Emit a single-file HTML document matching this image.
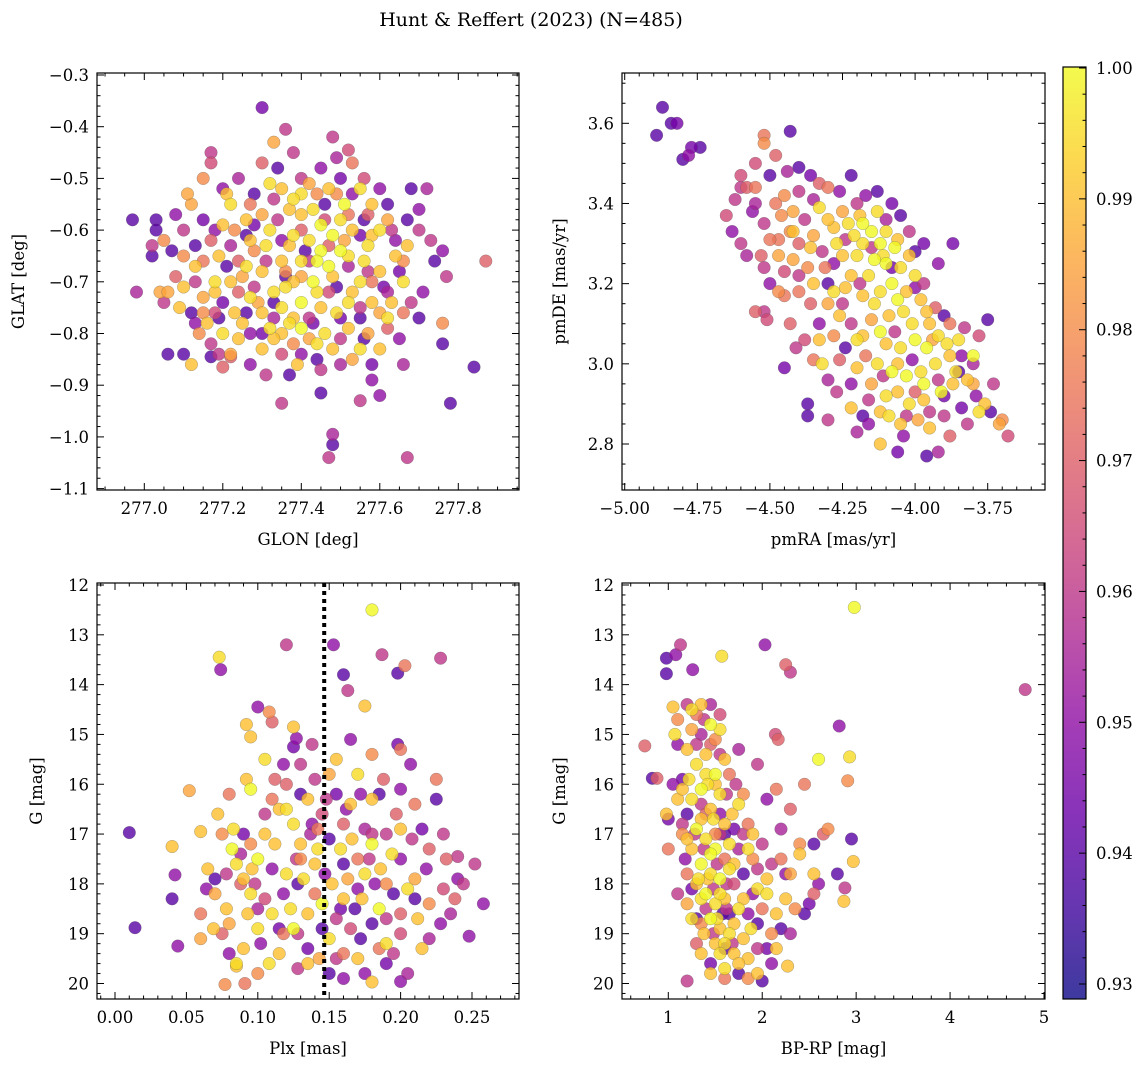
<!DOCTYPE html>
<html><head><meta charset="utf-8"><title>Hunt & Reffert (2023)</title>
<style>
html,body{margin:0;padding:0;background:#fff;}
svg{display:block;font-family:"DejaVu Serif","Liberation Serif",serif;}
</style></head>
<body>
<svg id="fig" width="1148" height="1067" viewBox="0 0 1148 1067" xmlns="http://www.w3.org/2000/svg">
<text x="531" y="26" font-size="19" text-anchor="middle">Hunt &amp; Reffert (2023) (N=485)</text>
</svg>
<script>
// ---- Data: [x, y, membership probability] ----
const skyStars = [
[277.30,-0.363,.945],[277.36,-0.405,.96],[277.48,-0.42,.96],[277.52,-0.445,.965],[277.33,-0.43,.985],[277.38,-0.45,.96],[277.17,-0.45,.96],[277.17,-0.47,.965],
[276.97,-0.58,.94],[276.98,-0.72,.955],[277.03,-0.58,.94],[277.03,-0.60,.94],[277.02,-0.65,.94],[277.05,-0.62,.98],[277.04,-0.72,.985],[277.06,-0.84,.94],[277.10,-0.84,.94],[277.07,-0.64,.94],[277.05,-0.74,.96],
[277.87,-0.66,.97],[277.84,-0.865,.94],[277.78,-0.935,.94],[277.76,-0.82,.94],[277.76,-0.78,.98],[277.77,-0.69,.96],[277.74,-0.66,.94],[277.76,-0.64,.95],[277.68,-0.52,.94],[277.72,-0.52,.955],[277.70,-0.60,.96],[277.67,-0.63,.99],
[277.67,-1.04,.96],[277.47,-1.04,.96],[277.48,-1.015,.94],[277.48,-0.995,.955],[277.35,-0.935,.96],[277.45,-0.915,.94],[277.55,-0.93,.96],[277.58,-0.89,.95],[277.31,-0.88,.96],[277.37,-0.88,.94],[277.20,-0.865,.97],[277.17,-0.845,.94],[277.22,-0.845,.97],[277.12,-0.86,.99],[277.60,-0.92,.95],[277.66,-0.86,.955],
[277.32,-0.51,.995],[277.35,-0.52,.99],[277.40,-0.53,.995],[277.47,-0.52,.99],[277.55,-0.52,.995],[277.58,-0.55,.99],[277.51,-0.55,1],[277.43,-0.56,.995],[277.37,-0.56,.99],[277.30,-0.57,.985],[277.26,-0.58,.99],[277.22,-0.55,.995],[277.20,-0.59,.99],[277.45,-0.59,1],[277.50,-0.58,.995],[277.53,-0.60,.99],[277.48,-0.61,1],[277.42,-0.62,.995],[277.45,-0.64,1],[277.50,-0.64,1],[277.44,-0.66,1],[277.47,-0.67,1],[277.40,-0.66,.995],[277.35,-0.66,.99],[277.30,-0.68,.99],[277.25,-0.69,.985],[277.22,-0.70,.99],[277.18,-0.72,.99],[277.15,-0.73,.985],[277.27,-0.73,.995],[277.33,-0.72,.995],[277.38,-0.70,.99],[277.43,-0.70,1],[277.48,-0.69,.99],[277.55,-0.70,.995],[277.60,-0.68,.99],[277.64,-0.65,.99],[277.66,-0.70,.995],[277.58,-0.74,.99],[277.52,-0.74,.995],[277.45,-0.75,.99],[277.40,-0.74,1],[277.35,-0.75,.995],[277.30,-0.76,.99],[277.25,-0.78,.99],[277.20,-0.80,.995],[277.24,-0.81,.99],[277.16,-0.78,.99],[277.32,-0.79,.995],[277.35,-0.80,.99],[277.40,-0.79,1],[277.46,-0.80,.995],[277.52,-0.79,.99],[277.57,-0.80,.985],[277.60,-0.83,.99],[277.55,-0.83,.995],[277.48,-0.83,.99],[277.42,-0.81,.985],[277.30,-0.83,.99],[277.22,-0.84,.985],[277.14,-0.80,.98],[277.10,-0.71,.99],[277.12,-0.55,.985],[277.11,-0.53,.985],[277.15,-0.50,.98],[277.32,-0.60,.995],[277.37,-0.63,.99],[277.57,-0.63,.995],[277.62,-0.58,.985],[277.56,-0.66,.995],[277.28,-0.64,.98],[277.60,-0.76,.985],[277.38,-0.77,.99],[277.58,-0.61,.99],
[277.20,-0.52,.95],[277.24,-0.50,.955],[277.28,-0.53,.94],[277.40,-0.50,.96],[277.45,-0.48,.95],[277.50,-0.50,.945],[277.56,-0.50,.965],[277.60,-0.52,.95],[277.62,-0.55,.94],[277.15,-0.58,.945],[277.18,-0.60,.95],[277.10,-0.60,.96],[277.13,-0.63,.94],[277.22,-0.63,.955],[277.26,-0.61,.94],[277.34,-0.58,.96],[277.40,-0.60,.97],[277.52,-0.57,.975],[277.56,-0.58,.94],[277.63,-0.60,.96],[277.67,-0.58,.94],[277.70,-0.56,.95],[277.65,-0.68,.945],[277.62,-0.72,.955],[277.68,-0.74,.96],[277.70,-0.77,.94],[277.52,-0.67,.955],[277.36,-0.69,.94],[277.28,-0.71,.96],[277.20,-0.74,.945],[277.12,-0.76,.94],[277.13,-0.78,.95],[277.18,-0.76,.965],[277.08,-0.69,.97],[277.26,-0.76,.94],[277.33,-0.77,.955],[277.42,-0.77,.96],[277.50,-0.77,.945],[277.55,-0.77,.94],[277.62,-0.79,.97],[277.65,-0.81,.95],[277.58,-0.86,.945],[277.50,-0.86,.955],[277.44,-0.85,.94],[277.40,-0.84,.95],[277.35,-0.84,.965],[277.27,-0.86,.95],[277.17,-0.82,.96],[277.15,-0.66,.975],[277.10,-0.65,.98],[277.06,-0.72,.985],[277.30,-0.47,.97],[277.53,-0.47,.975],[277.44,-0.53,.98],[277.36,-0.68,.98],[277.58,-0.70,.975],[277.47,-0.72,.965],[277.24,-0.66,.97],[277.38,-0.82,.98],[277.66,-0.76,.975]
];
const skyStarsCore = [
[277.21,-0.53,.99],[277.27,-0.55,.975],[277.33,-0.54,.96],[277.38,-0.54,.995],[277.42,-0.51,.985],[277.46,-0.55,.94],[277.49,-0.53,.98],[277.53,-0.53,.95],[277.57,-0.57,.97],[277.60,-0.60,.995],[277.55,-0.61,.945],[277.51,-0.62,.985],[277.47,-0.63,.97],[277.41,-0.64,.94],[277.38,-0.61,.995],[277.35,-0.62,.95],[277.31,-0.63,.995],[277.27,-0.62,.99],[277.23,-0.60,.98],[277.19,-0.65,.99],[277.21,-0.67,.94],[277.26,-0.67,.995],[277.31,-0.66,.96],[277.36,-0.71,.995],[277.40,-0.69,.985],[277.44,-0.72,.995],[277.49,-0.71,.94],[277.53,-0.72,.99],[277.57,-0.68,.96],[277.61,-0.71,.945],[277.63,-0.74,.99],[277.55,-0.75,.96],[277.49,-0.76,.995],[277.43,-0.78,.945],[277.37,-0.78,.995],[277.33,-0.74,.94],[277.29,-0.74,.985],[277.23,-0.76,.99],[277.19,-0.77,.94],[277.15,-0.76,.98],[277.18,-0.70,.995],[277.13,-0.70,.96],[277.13,-0.67,.99],[277.17,-0.62,.97],[277.27,-0.80,.95],[277.33,-0.81,.99],[277.44,-0.82,.995],[277.50,-0.81,.96],[277.56,-0.81,.94],[277.62,-0.77,.995],[277.53,-0.85,.985],[277.45,-0.87,.96],[277.39,-0.86,.99],[277.30,-0.80,.945],[277.19,-0.84,.96],[277.24,-0.72,.97],[277.42,-0.66,.96],[277.52,-0.65,.995],[277.46,-0.58,.965],[277.40,-0.57,.99],[277.28,-0.59,.945],[277.64,-0.62,.95],[277.66,-0.66,.98],[277.08,-0.57,.95],[277.09,-0.75,.99],[277.02,-0.63,.96],[277.71,-0.72,.95],[277.73,-0.62,.96],[277.34,-0.48,.94],[277.49,-0.46,.955]
];
const pmStars = [
[-4.87,3.64,.94],[-4.84,3.60,.94],[-4.82,3.60,.945],[-4.89,3.57,.94],[-4.80,3.51,.94],[-4.77,3.54,.945],[-4.74,3.54,.94],[-4.78,3.52,.95],[-4.63,3.33,.95],[-4.60,3.30,.96],[-4.58,3.27,.955],[-4.60,3.44,.96],[-4.55,3.50,.965],[-4.52,3.57,.975],[-4.52,3.55,.98],[-4.48,3.52,.97],[-4.44,3.48,.955],[-4.43,3.58,.94],[-4.40,3.49,.94],[-4.36,3.47,.945],[-4.60,3.47,.965],[-4.58,3.44,.97],[-4.55,3.44,.975],[-4.50,3.47,.94],[-4.48,3.40,.975],[-4.55,3.40,.955],[-4.52,3.35,.96],[-4.45,3.42,.98],[-4.46,3.37,.98],[-4.42,3.38,.985],[-4.40,3.43,.96],[-4.35,3.41,.955],[-4.33,3.45,.97],[-4.30,3.44,.975],[-4.26,3.43,.95],[-4.22,3.47,.94],[-4.20,3.40,.96],[-4.17,3.42,.95],[-4.13,3.43,.94],[-4.08,3.40,.945],[-4.05,3.37,.94],[-4.10,3.36,.955],[-4.02,3.33,.96],[-3.97,3.30,.945],[-4.00,3.28,.94],[-4.43,3.33,.98],[-4.47,3.31,.975],[-4.40,3.30,.97],[-4.52,3.24,.96],[-4.53,3.27,.97],[-4.50,3.20,.95],[-4.45,3.23,.965],[-4.40,3.18,.975],[-4.36,3.15,.97],[-4.42,3.26,.985],[-4.37,3.24,.98],[-4.35,3.32,.985],[-4.32,3.28,.96],[-4.30,3.20,.94],[-4.28,3.25,.95],[-4.25,3.15,.96],[-4.33,3.10,.95],[-4.52,3.13,.96],[-4.51,3.11,.965],[-4.55,3.13,.97],[-4.47,3.18,.98],[-4.45,3.17,.975],[-4.45,2.99,.945],[-4.41,3.04,.96],[-4.38,3.06,.965],[-4.35,3.01,.975],[-4.37,2.90,.94],[-4.37,2.87,.94],[-4.30,2.86,.96],[-4.30,2.96,.955],[-4.26,3.01,.97],[-4.28,3.07,.98],[-4.22,2.95,.95],[-4.20,2.83,.955],[-4.16,2.85,.95],[-4.12,2.80,.99],[-4.06,2.78,.945],[-4.04,2.82,.95],[-3.96,2.77,.94],[-3.92,2.78,.955],[-3.88,2.82,.97],[-3.82,2.85,.96],[-3.84,2.89,.945],[-3.79,2.92,.95],[-3.73,2.95,.96],[-3.70,2.86,.98],[-3.68,2.82,.965],[-3.71,2.85,.985],[-3.75,3.11,.94],[-3.78,3.07,.965],[-3.80,3.00,.955],[-3.85,2.98,.94],[-3.90,2.92,.945],[-3.95,2.88,.96],[-4.00,2.93,.97],[-3.97,3.20,.96],[-3.93,3.14,.97],[-3.88,3.10,.975],[-3.87,3.30,.945],[-3.92,3.25,.95],
[-4.15,3.33,1],[-4.12,3.30,1],[-4.18,3.30,.995],[-4.20,3.27,.995],[-4.14,3.26,1],[-4.10,3.25,1],[-4.16,3.22,.995],[-4.22,3.22,.99],[-4.25,3.27,.99],[-4.23,3.35,.995],[-4.19,3.37,.99],[-4.10,3.33,.995],[-4.07,3.29,1],[-4.05,3.24,.995],[-4.08,3.20,1],[-4.12,3.18,.995],[-4.18,3.17,.99],[-4.03,3.18,.99],[-4.00,3.22,.995],[-3.98,3.16,.99],[-4.04,3.13,.995],[-4.09,3.12,.99],[-4.15,3.11,.985],[-3.95,3.10,.99],[-3.92,3.07,.995],[-3.96,3.04,1],[-4.00,3.06,1],[-4.05,3.04,.995],[-4.10,3.05,.99],[-4.13,3.00,.995],[-4.08,2.98,1],[-4.03,2.97,1],[-3.98,2.98,.995],[-3.93,3.00,.995],[-3.88,3.02,.99],[-3.86,2.98,.995],[-3.82,2.96,.99],[-4.06,2.93,.99],[-4.10,2.92,.995],[-4.02,2.90,.995],[-3.97,2.91,.99],[-3.91,2.93,1],[-4.15,2.95,.985],[-4.20,2.99,.99],[-4.12,2.88,.99],[-4.05,2.85,.99],[-3.99,2.86,.985],[-4.26,3.12,.99],[-4.30,3.15,.985],[-4.35,3.20,.99],[-4.32,3.00,.995],[-4.20,3.06,.995],[-3.80,3.02,1],[-3.76,2.90,.99],[-4.25,3.38,.985],[-4.28,3.34,.99],[-3.85,3.06,.995]
];
const pmStarsCore = [
[-4.30,3.36,.99],[-4.27,3.30,.995],[-4.24,3.31,.96],[-4.21,3.32,.995],[-4.18,3.35,1],[-4.13,3.38,.995],[-4.15,3.29,.96],[-4.11,3.27,.995],[-4.08,3.24,.945],[-4.06,3.31,.99],[-4.02,3.27,.99],[-4.00,3.19,.95],[-4.06,3.16,1],[-4.14,3.15,.995],[-4.19,3.20,.96],[-4.24,3.19,.99],[-4.28,3.18,.995],[-4.22,3.10,.96],[-4.18,3.07,.99],[-4.12,3.08,1],[-4.07,3.08,.96],[-4.01,3.10,.995],[-3.96,3.13,.99],[-3.90,3.12,.94],[-3.94,3.06,.985],[-3.89,3.05,.995],[-3.84,3.02,.95],[-3.87,2.95,.99],[-3.92,2.96,.96],[-3.97,2.95,1],[-4.01,3.01,.95],[-4.06,3.00,.99],[-4.11,2.97,.96],[-4.17,3.02,.975],[-4.24,3.04,.94],[-4.16,2.91,.96],[-4.09,2.87,.995],[-4.03,2.87,.96],[-3.95,2.84,.99],[-3.90,2.87,.96],[-3.78,2.88,.995],[-3.74,2.88,.94],[-4.33,3.39,.995],[-4.38,3.36,.96],[-4.42,3.33,.99],[-4.36,3.29,.99],[-4.31,3.24,.975],[-4.40,3.22,.96],[-4.47,3.27,.985],[-4.50,3.31,.975],[-4.56,3.38,.95],[-4.62,3.41,.96],[-4.65,3.37,.965],[-4.43,3.10,.97],[-4.33,3.06,.99],[-4.27,2.93,.96],[-4.22,2.89,.99],[-4.18,2.87,.94],[-3.83,3.09,.96],[-3.80,2.95,.985]
];
const plxStars = [
[0.010,16.97,.94],[0.014,18.88,.94],[0.040,17.25,.99],[0.042,17.82,.95],[0.040,18.30,.94],[0.044,19.25,.95],[0.052,16.13,.985],[0.060,16.95,.99],[0.073,13.45,.995],[0.074,13.70,.95],
[0.120,13.20,.96],[0.180,12.50,1],[0.153,13.20,.95],[0.187,13.40,.96],[0.203,13.62,.975],[0.228,13.47,.96],[0.198,13.77,.94],[0.163,14.12,.96],[0.175,14.43,.99],[0.160,13.80,.94],[0.100,14.45,.95],[0.108,14.55,.98],[0.110,14.75,.97],[0.092,14.80,.99],[0.125,14.85,.99],[0.127,15.08,.95],[0.095,15.05,.99],
[0.258,18.40,.95],[0.252,17.60,.96],[0.248,19.05,.95],[0.244,18.00,.96],[0.238,18.30,.97],[0.240,17.45,.96],[0.077,20.02,.98],[0.091,20.00,.975],[0.085,19.65,.99],[0.180,19.97,.99],[0.200,19.96,.95],
[0.082,17.3,1],[0.085,17.6,.995],[0.090,17.9,.99],[0.095,18.2,.995],[0.100,17.5,1],[0.105,17.0,.99],[0.110,18.6,.995],[0.115,16.5,.99],[0.120,17.8,.995],[0.125,18.9,1],[0.130,17.2,.99],[0.135,16.3,.99],[0.100,18.9,.995],[0.090,19.3,.99],[0.080,18.8,.985],[0.070,18.2,.985],[0.065,17.7,.99],[0.072,16.6,.99],[0.095,16.1,1],[0.105,15.5,.995],[0.092,15.9,.99],[0.155,15.5,.99],[0.170,15.8,.995],[0.165,16.4,.99],[0.180,17.2,1],[0.175,17.8,.995],[0.185,18.5,1],[0.160,18.3,.99],[0.150,19.1,.995],[0.170,19.5,.99],[0.190,19.2,.995],[0.140,17.6,.99],[0.145,18.4,1],[0.135,19.6,.99],[0.115,19.4,.99],[0.085,19.6,.995],[0.200,16.9,.99],[0.210,17.9,.985],[0.180,16.3,.99],[0.060,19.1,.985],[0.125,16.8,.995],[0.078,18.5,.99],[0.215,19.3,.99],
[0.075,17.0,.98],[0.080,16.2,.975],[0.095,17.2,.98],[0.110,16.3,.975],[0.120,16.0,.97],[0.130,17.5,.98],[0.140,18.2,.975],[0.160,16.8,.97],[0.170,17.5,.975],[0.190,18.0,.98],[0.200,18.6,.97],[0.210,16.4,.975],[0.220,17.3,.97],[0.230,18.1,.965],[0.160,19.4,.975],[0.100,19.8,.98],[0.060,18.6,.975],[0.088,18.0,.97],[0.145,16.6,.965],[0.180,15.4,.98],[0.200,15.3,.975],[0.225,15.9,.975],[0.200,19.0,.965],[0.130,15.6,.96],[0.105,18.3,.965],[0.075,19.0,.97],[0.165,18.9,.965],[0.190,17.0,.96],
[0.118,15.6,.95],[0.125,15.25,.945],[0.130,16.2,.94],[0.138,16.8,.95],[0.150,17.1,.94],[0.155,16.2,.945],[0.160,17.6,.94],[0.170,18.1,.95],[0.180,18.8,.94],[0.190,19.6,.945],[0.200,17.5,.95],[0.210,18.3,.94],[0.220,19.1,.955],[0.230,17.0,.96],[0.240,17.9,.95],[0.145,18.9,.94],[0.135,19.3,.945],[0.150,19.8,.94],[0.110,17.7,.95],[0.100,18.5,.955],[0.090,17.0,.945],[0.080,19.4,.95],[0.070,17.9,.94],[0.128,18.0,.94],[0.158,18.5,.945],[0.175,16.9,.955],[0.185,16.2,.94],[0.200,16.1,.95],[0.215,16.9,.945],[0.225,16.3,.94],[0.235,18.6,.955],[0.195,18.2,.94],[0.172,19.1,.94],[0.160,19.9,.95],[0.205,19.8,.955],[0.140,15.9,.96],[0.165,15.1,.95],[0.198,15.2,.945]
];
const plxStarsCore = [
[0.105,16.6,.96],[0.112,17.2,.99],[0.118,18.2,.95],[0.123,18.5,.995],[0.128,19.0,.96],[0.132,17.9,.995],[0.137,17.0,.955],[0.142,17.3,.995],[0.147,17.8,.95],[0.152,18.0,.99],[0.155,18.7,.96],[0.158,17.3,.995],[0.162,16.5,.95],[0.166,17.1,.99],[0.168,18.5,.94],[0.173,18.3,.99],[0.178,17.5,.96],[0.182,18.0,.95],[0.186,17.7,.99],[0.190,18.7,.96],[0.194,17.4,.995],[0.197,16.6,.97],[0.205,18.1,.995],[0.208,17.1,.96],[0.212,18.7,.99],[0.218,17.7,.95],[0.220,18.4,.98],[0.228,18.8,.95],[0.232,17.5,.97],[0.098,18.0,.96],[0.093,18.6,.99],[0.088,17.4,.955],[0.083,16.9,.995],[0.078,17.8,.96],[0.069,18.9,.99],[0.064,18.1,.95],[0.102,19.2,.95],[0.108,19.6,.995],[0.118,19.0,.975],[0.128,19.7,.96],[0.143,19.5,.985],[0.155,19.5,.96],[0.175,19.8,.95],[0.185,19.3,.975],[0.195,19.4,.96],[0.135,18.6,.99],[0.148,16.3,.96],[0.138,15.2,.96],[0.150,15.8,.985],[0.112,15.9,.97],[0.172,16.2,.95],[0.188,15.9,.97],[0.207,15.6,.95],[0.120,16.5,.995],[0.096,17.7,.99],[0.180,17.0,.96],[0.163,17.9,.985],[0.142,16.9,.975],[0.127,17.5,.96],[0.115,18.9,.945]
];
const cmdStars = [
[4.80,14.10,.96],[2.98,12.45,1],[2.03,13.20,.95],[1.13,13.20,.96],[0.98,13.47,.94],[0.98,13.78,.94],[1.08,13.40,.95],[1.57,13.43,.995],[1.26,13.70,.95],[2.25,13.60,.97],[2.30,13.75,.96],[2.82,14.83,.95],[0.75,15.23,.97],[0.83,15.88,.94],[0.88,15.88,.97],[2.14,15.00,.965],[2.17,15.10,.97],[2.93,15.45,.995],[2.91,15.93,.98],[2.95,17.10,.94],[2.97,17.55,.99],[2.88,18.08,.96],[2.87,18.35,.99],[2.65,17.00,.97],[2.55,17.20,.94],
[1.25,14.5,.995],[1.35,14.4,.99],[1.45,14.8,1],[1.20,15.3,.99],[1.30,15.6,.995],[1.40,15.4,.99],[1.50,15.8,1],[1.60,15.5,.99],[1.25,16.3,.995],[1.35,16.1,1],[1.45,16.5,.99],[1.55,16.2,.995],[1.30,16.9,1],[1.40,17.1,.995],[1.50,17.3,1],[1.60,16.8,.99],[1.35,17.6,1],[1.45,17.8,.995],[1.55,17.9,1],[1.40,18.2,1],[1.50,18.4,.995],[1.60,18.3,.99],[1.30,18.0,.99],[1.45,18.7,1],[1.55,18.9,.99],[1.65,19.0,.995],[1.50,19.2,.99],[1.70,19.4,.99],[1.60,19.7,.995],[1.80,19.1,.99],[1.75,18.5,.995],[1.85,19.5,.99],[1.20,18.4,.985],[1.10,16.3,.99],[1.05,14.45,.99],[1.07,15.0,.995],[0.98,16.6,.99],[2.27,19.65,.99],[2.60,15.5,1],[2.40,17.4,.99],[2.55,17.8,.99],[2.30,17.8,.985],[2.15,18.6,.99],[2.05,17.9,.99],[1.95,18.1,.995],[1.90,17.0,.99],[1.75,16.4,.995],[1.70,17.6,.99],[1.50,16.0,.99],[1.65,17.2,.995],[1.25,17.3,.99],[1.35,19.4,.99],[1.95,19.8,.99],
[1.10,14.7,.98],[1.30,14.6,.975],[1.50,15.1,.98],[1.65,15.8,.975],[1.80,16.2,.98],[1.85,16.8,.975],[1.90,17.5,.98],[2.00,18.5,.975],[2.10,19.0,.98],[2.20,17.5,.975],[2.40,17.2,.98],[2.45,16.0,.975],[2.30,16.5,.97],[2.35,18.5,.98],[2.55,18.2,.97],[2.70,16.9,.98],[1.15,17.0,.98],[1.20,17.8,.975],[1.30,19.2,.97],[1.60,19.9,.975],[1.85,19.9,.98],[1.00,17.3,.975],[2.15,16.1,.975],[1.40,16.6,.97],[1.70,18.0,.965],
[1.10,15.2,.95],[1.15,15.9,.945],[1.20,16.6,.94],[1.18,17.5,.95],[1.25,18.1,.945],[1.30,18.7,.94],[1.35,15.0,.955],[1.55,16.6,.95],[1.60,17.0,.94],[1.70,16.9,.945],[1.75,17.3,.955],[1.80,17.8,.94],[1.90,18.2,.95],[1.95,18.8,.94],[2.05,19.3,.945],[2.00,19.95,.94],[2.10,19.6,.95],[2.20,18.9,.94],[2.30,19.0,.955],[2.25,17.8,.95],[2.45,18.6,.94],[2.50,18.4,.945],[2.60,18.0,.95],[2.80,17.8,.94],[2.20,16.9,.955],[2.05,16.3,.95],[1.95,15.6,.96],[1.75,15.3,.955],[1.45,19.6,.945],[1.60,19.3,.94],[1.75,19.8,.94],[1.20,19.95,.96],[1.05,16.0,.95],[1.00,16.7,.945],[1.20,14.4,.96],[1.45,14.4,.955],[1.55,14.6,.965],[1.65,18.6,.94],[1.85,18.6,.95],[2.00,17.2,.96],[1.10,18.2,.96]
];
const cmdStarsCore = [
[1.30,15.2,.96],[1.40,15.8,.995],[1.45,15.2,.97],[1.55,15.4,.96],[1.35,16.4,.96],[1.42,16.0,.995],[1.48,16.7,.995],[1.55,17.0,.96],[1.38,17.3,.96],[1.45,17.4,1],[1.52,17.6,.96],[1.42,17.9,.99],[1.48,18.1,.96],[1.35,18.3,.995],[1.55,18.2,.995],[1.62,18.5,.96],[1.40,18.5,.96],[1.52,18.7,.995],[1.58,18.6,.94],[1.60,19.2,.995],[1.68,19.2,.96],[1.55,19.4,.995],[1.75,19.6,.99],[1.48,19.0,.96],[1.45,19.8,.99],[1.70,18.8,.99],[1.65,17.7,.995],[1.62,18.0,.96],[1.28,17.0,.96],[1.32,17.9,.995],[1.25,18.7,.995],[1.38,19.0,.99],[1.20,17.1,.99],[1.15,16.8,.96],[1.22,15.9,.995],[1.35,16.7,.99],[1.62,16.2,.96],[1.68,16.6,.99],[1.80,17.0,.96],[1.85,17.3,.995],[1.95,17.7,.96],[2.05,18.2,.995],[1.80,18.3,.99],[1.88,18.9,.995],[1.95,19.3,.96],[2.15,19.3,.99],[1.55,14.9,.995],[1.38,14.7,.96],[1.25,14.9,.985],[1.15,16.1,.99],[2.10,17.6,.96],[2.25,18.3,.99],[1.72,16.0,.96],[1.50,17.0,.98],[1.60,17.5,.975],[1.35,18.8,.98]
];
const plxCut = [0.1465];
const panel1XTicks = [277.0,277.2,277.4,277.6,277.8];
const panel1YTicks = [-0.3,-0.4,-0.5,-0.6,-0.7,-0.8,-0.9,-1.0,-1.1];
const panel2XTicks = [-5.00,-4.75,-4.50,-4.25,-4.00,-3.75];
const panel2YTicks = [3.6,3.4,3.2,3.0,2.8];
const panel3XTicks = [0.00,0.05,0.10,0.15,0.20,0.25];
const magTicks = [12,13,14,15,16,17,18,19,20];
const panel4XTicks = [1,2,3,4,5];
const cbarTicks = [0.93,0.94,0.95,0.96,0.97,0.98,0.99,1.00];

// ---- Rendering ----
const NS = "http://www.w3.org/2000/svg";
const svg = document.getElementById('fig');
function mk(tag, attrs, parent){ const e=document.createElementNS(NS,tag); for(const k in attrs) e.setAttribute(k,attrs[k]); (parent||svg).appendChild(e); return e; }
const plasmaStops = ["#0d0887","#41049d","#6a00a8","#8f0da4","#b12a90","#cc4778","#e16462","#f2844b","#fca636","#fcce25","#f0f921"];
function hex2rgb(h){ return [parseInt(h.substr(1,2),16),parseInt(h.substr(3,2),16),parseInt(h.substr(5,2),16)]; }
function plasma(t){ t=Math.max(0,Math.min(1,t)); const f=t*10, i=Math.min(9,Math.floor(f)), r=f-i; const a=hex2rgb(plasmaStops[i]), b=hex2rgb(plasmaStops[i+1]); return 'rgb('+a.map((v,k)=>Math.round(v+(b[k]-v)*r)).join(',')+')'; }
const vmin = 0.9289, vmax = 1.0;
function norm(p){ return (p-vmin)/(vmax-vmin); }

function linear(v0,p0,v1,p1){ return v => p0 + (v-v0)*(p1-p0)/(v1-v0); }

function drawPanel(cfg){
  const g = mk('g',{}); 
  
  
  const clipId = cfg.name+'-clip';
  const cp = mk('clipPath',{id:clipId}, g);
  mk('rect',{x:cfg.L,y:cfg.T,width:cfg.R-cfg.L,height:cfg.B-cfg.T},cp);
  const pts = mk('g',{'clip-path':'url(#'+clipId+')'}, g);
  
  
  const sorted = cfg.data.slice().sort((a,b)=>a[2]-b[2]);
  sorted.forEach(d=>{
    const c = mk('circle',{cx:cfg.sx(d[0]).toFixed(1),cy:cfg.sy(d[1]).toFixed(1),r:6.3,fill:plasma(norm(d[2])),'fill-opacity':0.8,stroke:'#555','stroke-opacity':0.5,'stroke-width':0.5}, pts);
    
    
  });
  if(cfg.vline){
    cfg.vline.forEach(v=>{
      const l = mk('line',{x1:cfg.sx(v),x2:cfg.sx(v),y1:cfg.T,y2:cfg.B,stroke:'#000','stroke-width':4,'stroke-dasharray':'4,4'}, g);
      
      
    });
  }
  const frame = mk('rect',{x:cfg.L,y:cfg.T,width:cfg.R-cfg.L,height:cfg.B-cfg.T,fill:'none',stroke:'#000','stroke-width':1.2}, g);
  
  
  const tk = mk('g',{stroke:'#000','stroke-width':1}, g);
  const xr=[cfg.sx.inv(cfg.L),cfg.sx.inv(cfg.R)], yr=[cfg.sy.inv(cfg.B),cfg.sy.inv(cfg.T)];
  const xlo=Math.min(...xr), xhi=Math.max(...xr), ylo=Math.min(...yr), yhi=Math.max(...yr);
  for(let v=Math.ceil(xlo/cfg.xMinor-1e-9)*cfg.xMinor; v<=xhi+1e-9; v+=cfg.xMinor){
    const x=cfg.sx(v); const major = cfg.xTicks.some(t=>Math.abs(t-v)<cfg.xMinor/3); const len=major?7:3.5;
    mk('line',{x1:x,x2:x,y1:cfg.B,y2:cfg.B-len},tk); mk('line',{x1:x,x2:x,y1:cfg.T,y2:cfg.T+len},tk);
  }
  for(let v=Math.ceil(ylo/cfg.yMinor-1e-9)*cfg.yMinor; v<=yhi+1e-9; v+=cfg.yMinor){
    const y=cfg.sy(v); const major = cfg.yTicks.some(t=>Math.abs(t-v)<cfg.yMinor/3); const len=major?7:3.5;
    mk('line',{x1:cfg.L,x2:cfg.L+len,y1:y,y2:y},tk); mk('line',{x1:cfg.R,x2:cfg.R-len,y1:y,y2:y},tk);
  }
  cfg.xTicks.forEach(v=>{
    const t = mk('text',{x:cfg.sx(v),y:cfg.B+24,'font-size':16.5,'text-anchor':'middle'}, g);
    t.textContent = (v<0?'\u2212':'') + Math.abs(v).toFixed(cfg.xDec);
    
    
  });
  cfg.yTicks.forEach(v=>{
    const t = mk('text',{x:cfg.L-8,y:cfg.sy(v)+6,'font-size':16.5,'text-anchor':'end'}, g);
    t.textContent = (v<0?'\u2212':'') + Math.abs(v).toFixed(cfg.yDec);
    
    
  });
  const xl = mk('text',{x:(cfg.L+cfg.R)/2,y:cfg.B+55,'font-size':16.5,'text-anchor':'middle'}, g);
  xl.textContent = cfg.xlabel;
  
  
  const yl = mk('text',{x:cfg.ylx,y:(cfg.T+cfg.B)/2,'font-size':16.5,'text-anchor':'middle',transform:'rotate(-90 '+cfg.ylx+' '+((cfg.T+cfg.B)/2)+')'}, g);
  yl.textContent = cfg.ylabel;
  
  
}
function scale(v0,p0,v1,p1){ const f=linear(v0,p0,v1,p1); f.inv=linear(p0,v0,p1,v1); return f; }

drawPanel({name:'sky-panel',data:skyStars.concat(skyStarsCore),L:97,R:519,T:73,B:490,
  sx:scale(277.0,144.3,277.8,458.3), sy:scale(-0.3,75,-1.1,488.6),
  xTicks:panel1XTicks,yTicks:panel1YTicks,xMinor:0.05,yMinor:0.02,xDec:1,yDec:1,
  xlabel:'GLON [deg]',ylabel:'GLAT [deg]',ylx:24});
drawPanel({name:'proper-motion-panel',data:pmStars.concat(pmStarsCore),L:622,R:1045,T:73,B:490,
  sx:scale(-5.0,624.7,-3.75,987.7), sy:scale(3.6,123.3,2.8,444),
  xTicks:panel2XTicks,yTicks:panel2YTicks,xMinor:0.05,yMinor:0.05,xDec:2,yDec:1,
  xlabel:'pmRA [mas/yr]',ylabel:'pmDE [mas/yr]',ylx:565});
drawPanel({name:'parallax-panel',data:plxStars.concat(plxStarsCore),L:97,R:519,T:583,B:999,vline:plxCut,
  sx:scale(0,115,0.25,472), sy:scale(12,585,20,983.5),
  xTicks:panel3XTicks,yTicks:magTicks,xMinor:0.01,yMinor:0.2,xDec:2,yDec:0,
  xlabel:'Plx [mas]',ylabel:'G [mag]',ylx:42});
drawPanel({name:'cmd-panel',data:cmdStars.concat(cmdStarsCore),L:622,R:1045,T:583,B:999,
  sx:scale(1,668.3,5,1044), sy:scale(12,585,20,983.5),
  xTicks:panel4XTicks,yTicks:magTicks,xMinor:0.2,yMinor:0.2,xDec:0,yDec:0,
  xlabel:'BP-RP [mag]',ylabel:'G [mag]',ylx:565});

// ---- Colorbar ----
(function(){
  const L=1063,R=1086,T=67,B=999;
  const cy = scale(1.0,68,0.93,984);
  const defs = mk('defs',{});
  const lg = mk('linearGradient',{id:'cbgrad',x1:0,y1:1,x2:0,y2:0},defs);
  for(let i=0;i<=20;i++){ mk('stop',{offset:(i/20),'stop-color':plasma(i/20)},lg); }
  const g = mk('g',{});
  
  
  mk('rect',{x:L,y:T,width:R-L,height:B-T,fill:'url(#cbgrad)','fill-opacity':0.8},g);
  mk('rect',{x:L,y:T,width:R-L,height:B-T,fill:'none',stroke:'#000','stroke-width':1.2},g);
  const tk = mk('g',{stroke:'#000','stroke-width':1},g);
  for(let k=0;k<=35;k++){ const v=0.93+k*0.002; const y=cy(v); if(y<T||y>B) continue; const major=(k%5===0);
    mk('line',{x1:R,x2:R-(major?7:3.5),y1:y,y2:y},tk); }
  cbarTicks.forEach(v=>{
    const t = mk('text',{x:R+10,y:cy(v)+6,'font-size':16.5}, g);
    t.textContent = v.toFixed(2);
    
    
  });
})();
</script>
</body></html>
